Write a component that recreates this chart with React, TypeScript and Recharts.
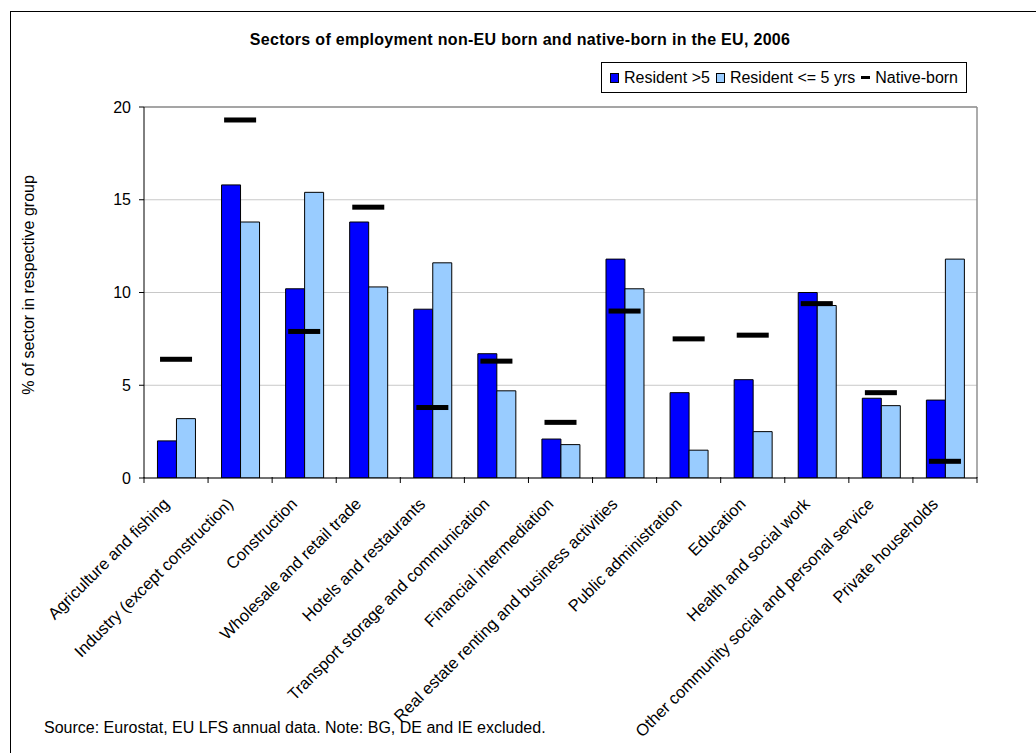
import { Bar, CartesianGrid, ComposedChart, Line, XAxis, YAxis } from 'recharts'

const FONT = '"Liberation Sans", Arial, sans-serif'

const sectors = [
  'Agriculture and fishing',
  'Industry (except construction)',
  'Construction',
  'Wholesale and retail trade',
  'Hotels and restaurants',
  'Transport storage and communication',
  'Financial intermediation',
  'Real estate renting and business activities',
  'Public administration',
  'Education',
  'Health and social work',
  'Other community social and personal service',
  'Private households',
]
const residentOver5 = [2.0, 15.8, 10.2, 13.8, 9.1, 6.7, 2.1, 11.8, 4.6, 5.3, 10.0, 4.3, 4.2]
const residentUpTo5 = [3.2, 13.8, 15.4, 10.3, 11.6, 4.7, 1.8, 10.2, 1.5, 2.5, 9.3, 3.9, 11.8]
const nativeBorn = [6.4, 19.3, 7.9, 14.6, 3.8, 6.3, 3.0, 9.0, 7.5, 7.7, 9.4, 4.6, 0.9]
const yTicks = [0, 5, 10, 15, 20]

const data = sectors.map((sector, i) => ({
  sector,
  older: residentOver5[i],
  recent: residentUpTo5[i],
  native: nativeBorn[i],
}))

const W = 1036
const H = 753
const MARGIN = { top: 107, right: 59, left: 84, bottom: 5 }
const Y_AXIS_W = 60
const PLOT_RIGHT = W - MARGIN.right
const BAND = (W - MARGIN.left - MARGIN.right - Y_AXIS_W) / sectors.length

function NativeDash(props: any) {
  const { cx, cy } = props
  if (cx == null || cy == null) return null
  return <rect x={cx - 16} y={cy - 2.5} width={32} height={5} fill="#000" />
}

// label at the category, tick marks on the category edges like Excel
function SectorTick({ x, y, payload, index }: any) {
  const half = BAND / 2
  return (
    <g>
      {index === 0 && <line x1={x - half} x2={x - half} y1={y - 1} y2={y + 5} stroke="#000" />}
      <line x1={x + half} x2={x + half} y1={y - 1} y2={y + 5} stroke="#000" />
      <g transform={`translate(${x - 10},${y + 23}) rotate(-45)`}>
        <text textAnchor="end" dy="0.35em" fontSize={16.5} fontFamily={FONT} fill="#000">
          {payload.value}
        </text>
      </g>
    </g>
  )
}

function LegendItem({ color, label, dash }: { color: string; label: string; dash?: boolean }) {
  return (
    <span style={{ display: 'inline-flex', alignItems: 'center', marginLeft: 6 }}>
      {dash ? (
        <span style={{ display: 'inline-block', width: 9, height: 3, background: '#000', marginRight: 5 }} />
      ) : (
        <span
          style={{ display: 'inline-block', width: 7, height: 8, background: color, border: '1px solid #000', marginRight: 5 }}
        />
      )}
      {label}
    </span>
  )
}

export default function App() {
  return (
    <div style={{ position: 'fixed', left: 0, top: 0, width: W, height: H, overflow: 'hidden', background: '#fff', fontFamily: FONT }}>
      <div style={{ position: 'absolute', left: 10, top: 11, width: 1060, height: 780, border: '1.5px solid #000' }} />
      <div
        style={{ position: 'absolute', left: 0, width: 1040, top: 31, textAlign: 'center', fontSize: 16, fontWeight: 'bold', letterSpacing: 0.3 }}
      >
        Sectors of employment non-EU born and native-born in the EU, 2006
      </div>
      <div
        style={{
          position: 'absolute', right: W - 967, top: 62, height: 29, border: '1px solid #000', display: 'flex',
          alignItems: 'center', paddingRight: 8, paddingLeft: 2, fontSize: 16, background: '#fff',
        }}
      >
        <LegendItem color="#0000ff" label="Resident >5" />
        <LegendItem color="#99ccff" label="Resident <= 5 yrs" />
        <LegendItem color="#000" label="Native-born" dash />
      </div>
      <div
        style={{
          position: 'absolute', left: 29, top: 285, transform: 'translate(-50%, -50%) rotate(-90deg)',
          whiteSpace: 'nowrap', fontSize: 16,
        }}
      >
        % of sector in respective group
      </div>
      <div style={{ position: 'absolute', left: 44, top: 719, fontSize: 16 }}>
        Source: Eurostat, EU LFS annual data. Note: BG, DE and IE excluded.
      </div>
      <div style={{ position: 'absolute', left: 0, top: 0 }}>
        <ComposedChart width={W} height={H} data={data} margin={MARGIN} barCategoryGap="21%" barGap={0}>
          <CartesianGrid horizontal vertical={false} stroke="#c8c8c8" />
          <CartesianGrid
            horizontal
            vertical
            horizontalPoints={[MARGIN.top]}
            verticalPoints={[PLOT_RIGHT]}
            stroke="#909090"
            strokeWidth={1.5}
          />
          <XAxis
            dataKey="sector"
            interval={0}
            height={270}
            stroke="#000"
            tickLine={false}
            tickSize={0}
            tickMargin={0}
            tick={<SectorTick />}
          />
          <YAxis
            domain={[0, 20]}
            ticks={yTicks}
            width={Y_AXIS_W}
            tickSize={5}
            tickMargin={8}
            stroke="#000"
            tick={{ fontSize: 16, fontFamily: FONT, fill: '#000' }}
            allowDataOverflow
          />
          <Bar dataKey="older" fill="#0000ff" stroke="#000" strokeWidth={1} isAnimationActive={false} />
          <Bar dataKey="recent" fill="#99ccff" stroke="#000" strokeWidth={1} isAnimationActive={false} />
          <Line dataKey="native" stroke="none" dot={<NativeDash />} activeDot={false} isAnimationActive={false} />
        </ComposedChart>
      </div>
    </div>
  )
}
